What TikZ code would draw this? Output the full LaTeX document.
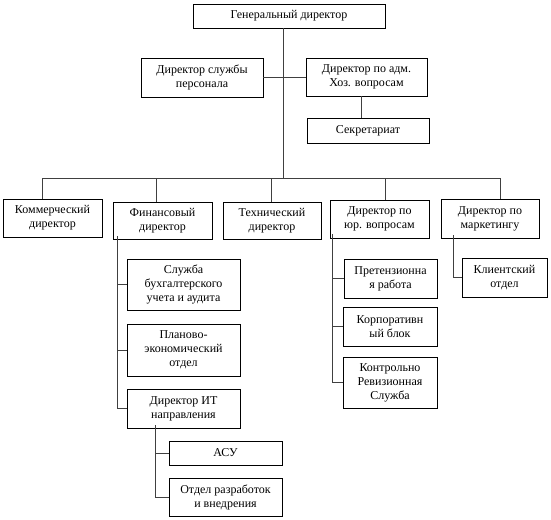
\documentclass[tikz,border=0pt]{standalone}
\usepackage{fontspec}
\setmainfont{Liberation Serif}
\usetikzlibrary{shadows}
\begin{document}
\begin{tikzpicture}[x=1pt,y=-1pt,
  box/.style={draw=black, line width=0.8pt, fill=white, inner sep=0pt, align=center,
    font=\fontsize{12}{14}\selectfont,
    drop shadow={shadow xshift=1.2pt, shadow yshift=-1.2pt, fill=black!45, opacity=1}},
  link/.style={draw=black!75, line width=0.9pt}]
\useasboundingbox (0,0) rectangle (551,519);
\fill[white] (0,0) rectangle (551,519);
% boxes
\node[box, minimum width=192pt, minimum height=24pt] (gen) at (289,16) {Генеральный директор};
\node[box, minimum width=122pt, minimum height=39pt] (pers) at (202,77.5) {Директор службы\\персонала};
\node[box, minimum width=121pt, minimum height=38pt] (adm) at (366.5,77) {Директор по адм.\\Хоз. вопросам};
\node[box, minimum width=122pt, minimum height=25pt] (sec) at (368,130.5) {Секретариат};
\node[box, minimum width=99pt, minimum height=38pt] (com) at (52.5,218) {Коммерческий\\директор};
\node[box, minimum width=99pt, minimum height=37pt] (fin) at (162.5,220.5) {Финансовый\\директор};
\node[box, minimum width=98pt, minimum height=37pt] (tech) at (272,220.5) {Технический\\директор};
\node[box, minimum width=99pt, minimum height=38pt] (leg) at (379.5,219) {Директор по\\юр. вопросам};
\node[box, minimum width=98pt, minimum height=39pt] (mkt) at (490,218.5) {Директор по\\маркетингу};
\node[box, minimum width=113pt, minimum height=51pt] (bukh) at (183.5,284.5) {Служба\\бухгалтерского\\учета и аудита};
\node[box, minimum width=113pt, minimum height=52pt] (plan) at (183.5,350) {Планово-\\экономический\\отдел};
\node[box, minimum width=113pt, minimum height=39pt] (it) at (183.5,408.5) {Директор ИТ\\направления};
\node[box, minimum width=113pt, minimum height=24pt] (asu) at (225.5,453) {АСУ};
\node[box, minimum width=113pt, minimum height=38pt] (otd) at (225.5,497) {Отдел разработок\\и внедрения};
\node[box, minimum width=93pt, minimum height=39pt] (pret) at (390.5,278.5) {Претензионна\\я работа};
\node[box, minimum width=94pt, minimum height=39pt] (korp) at (390,326.5) {Корпоративн\\ый блок};
\node[box, minimum width=94pt, minimum height=51pt] (ctrl) at (390,382.5) {Контрольно\\Ревизионная\\Служба};
\node[box, minimum width=85pt, minimum height=39pt] (cli) at (504.5,277.5) {Клиентский\\отдел};
% bus coordinates
\coordinate (busL) at (42,178);
\coordinate (busR) at (500,178);
\coordinate (busC) at (283,178);
\coordinate (d2) at (156,178);
\coordinate (d3) at (271,178);
\coordinate (d4) at (385,178);
% connectors
\draw[link] (gen.south -| busC) -- (busC);
\draw[link] (pers.east) -- (pers.east -| adm.west);
\draw[link] ([xshift=-5.5pt]adm.south) -- ([xshift=-5.5pt]adm.south |- sec.north);
\draw[link] (busL) -- (busR);
\draw[link] (busL) -- (com.north -| busL);
\draw[link] (d2) -- (fin.north -| d2);
\draw[link] (d3) -- (tech.north -| d3);
\draw[link] (d4) -- (leg.north -| d4);
\draw[link] (busR) -- (mkt.north -| busR);
% financial branch
\coordinate (fv) at ([xshift=5pt,yshift=3pt]fin.south west);
\draw[link] (fv) |- (it.west);
\draw[link] (fv |- bukh.west) -- (bukh.west);
\draw[link] (fv |- plan.west) -- (plan.west);
% IT branch
\coordinate (iv) at ([xshift=29pt,yshift=3pt]it.south west);
\draw[link] (iv) |- (otd.west);
\draw[link] (iv |- asu.west) -- (asu.west);
% legal branch
\coordinate (lv) at ([xshift=3pt,yshift=4pt]leg.south west);
\draw[link] (lv) |- (ctrl.west);
\draw[link] (lv |- pret.west) -- (pret.west);
\draw[link] (lv |- korp.west) -- (korp.west);
% marketing branch
\coordinate (mv) at ([xshift=13pt,yshift=3pt]mkt.south west);
\draw[link] (mv) |- (cli.west);
\end{tikzpicture}
\end{document}
